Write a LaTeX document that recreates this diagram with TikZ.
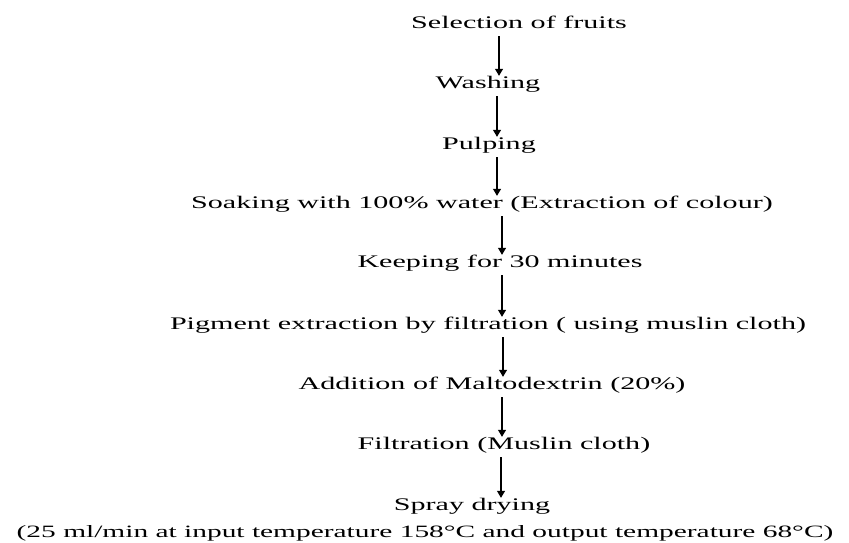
\documentclass[tikz,border=0pt]{standalone}
\usepackage{fontspec}
\setmainfont{Liberation Serif}[FakeStretch=1.7]
\usetikzlibrary{arrows.meta}

\tikzset{
  stage/.style={inner sep=0pt, text height=12pt, text depth=4pt,
    font=\fontsize{17.7pt}{20pt}\selectfont},
  flow/.style={line width=1.2pt, shorten <=4pt,
    -{Triangle[width=8pt,length=7pt]}}
}

\begin{document}
\begin{tikzpicture}[x=1pt,y=-1pt]
  \useasboundingbox (0,0) rectangle (849,542);
  \node[stage] (sel) at (519,24) {Selection of fruits};
  \node[stage] (wash) at (488,84) {Washing};
  \node[stage] (pulp) at (489,145) {Pulping};
  \node[stage] (soak) at (482,204) {Soaking with 100\% water (Extraction of colour)};
  \node[stage] (keep) at (500,263) {Keeping for 30 minutes};
  \node[stage] (pig) at (488,325) {Pigment extraction by filtration ( using muslin cloth)};
  \node[stage] (malt) at (492,385) {Addition of Maltodextrin (20\%)};
  \node[stage] (filt) at (504,445) {Filtration (Muslin cloth)};
  \node[stage] (spray) at (472,506) {Spray drying};
  \node[stage, font=\fontsize{17.3pt}{20pt}\selectfont] (cond) at (425,533)
    {(25 ml/min at input temperature 158°C and output temperature 68°C)};
  % arrows down the chart
  \draw[flow] (sel.south -| 499,0) -- (wash.north -| 499,0);
  \draw[flow] (wash.south -| 497,0) -- (pulp.north -| 497,0);
  \draw[flow] (pulp.south -| 497,0) -- (soak.north -| 497,0);
  \draw[flow] (soak.south -| 502,0) -- (keep.north -| 502,0);
  \draw[flow] (keep.south -| 502,0) -- (pig.north -| 502,0);
  \draw[flow] (pig.south -| 503,0) -- (malt.north -| 503,0);
  \draw[flow] (malt.south -| 502,0) -- (filt.north -| 502,0);
  \draw[flow] (filt.south -| 501,0) -- (spray.north -| 501,0);
\end{tikzpicture}
\end{document}
